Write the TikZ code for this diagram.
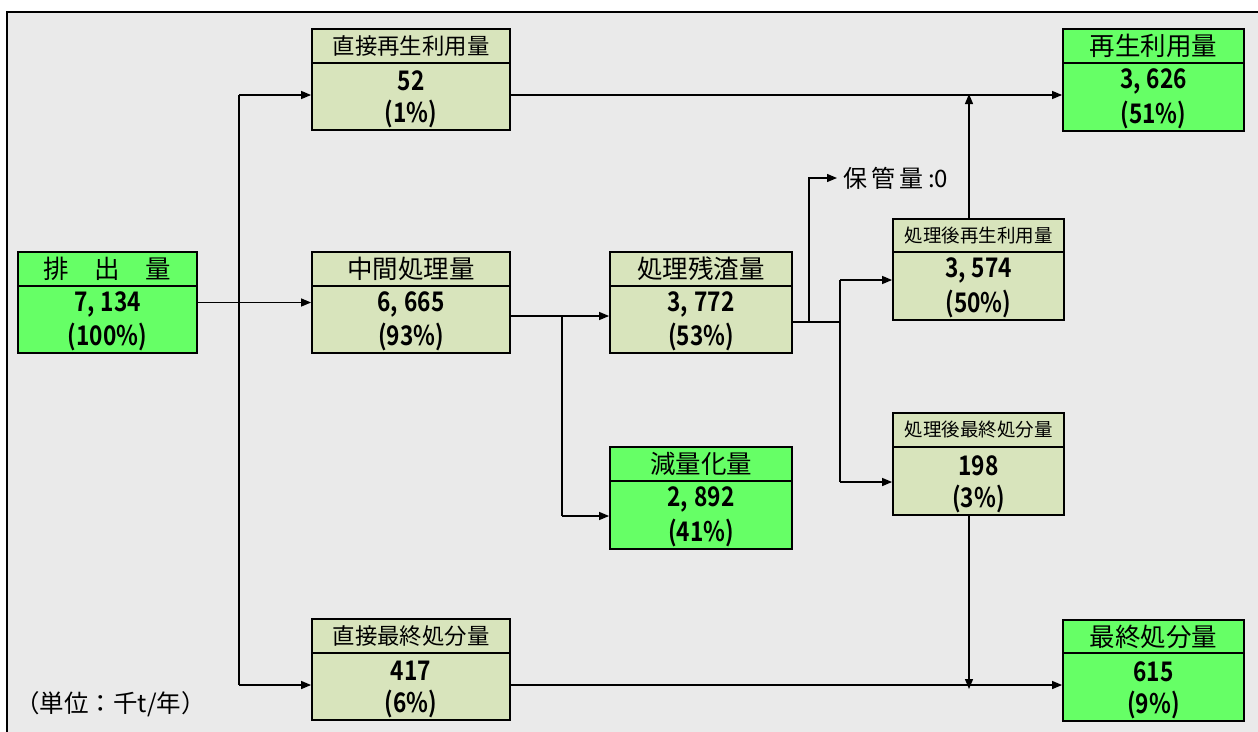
\documentclass[tikz,border=0pt]{standalone}
\usepackage{fontspec}
\setmainfont{Noto Sans CJK JP}
\newfontfamily\numf[FakeStretch=0.84]{Noto Sans CJK JP Bold}
\usetikzlibrary{arrows.meta,fit}
\definecolor{bggray}{HTML}{EAEAEA}
\definecolor{grn}{HTML}{66FF66}
\definecolor{beige}{HTML}{D8E4BC}
\tikzset{
  boxst/.style={draw=black, line width=1.8pt, inner sep=0pt},
  hdrl/.style={font=\fontsize{25.5}{27}\selectfont, inner sep=0pt},
  hdr/.style={font=\fontsize{22.4}{24}\selectfont, inner sep=0pt},
  hdrs/.style={font=\fontsize{18.5}{20}\selectfont, inner sep=0pt},
  num/.style={font=\numf\fontsize{27}{29}\selectfont, inner sep=0pt},
  conn/.style={line width=1.3pt},
  arr/.style={line width=1.3pt, -{Triangle[length=10pt,width=8pt]}},
}
\newcommand{\cm}{,\hspace{6pt}}
% #1 name, #2 x1, #3 y1, #4 x2, #5 y2, #6 ydiv, #7 fill, #8 header style, #9 header
\newcommand{\flowbox}[9]{%
  \node[boxst, fill=#7, fit={(#2,#3) (#4,#5)}] (#1) {};
  \draw[line width=1.6pt] (#2,#6) -- (#4,#6);
  \node[#8] (#1-h) at ({(#2+#4)/2},{(#3+#6)/2}) {#9};
}
\newcommand{\flowvals}[7]{% #1 name #2 x1 #3 x2 #4 ydiv #5 y2 #6 val #7 pct
  \node[num] (#1-v) at ({(#2+#3)/2},{#4+0.27*(#5-#4)}) {#6};
  \node[num] (#1-p) at ({(#2+#3)/2},{#4+0.76*(#5-#4)}) {#7};
}
\begin{document}
\begin{tikzpicture}[x=1pt,y=-1pt]
\useasboundingbox (0,0) rectangle (1258,731);
\fill[white] (0,0) rectangle (1258,731);
\fill[bggray] (7,12) rectangle (1262,735);
\draw[line width=1.8pt] (7,735) -- (7,12) -- (1262,12);

% boxes
\flowbox{haishutsu}{18}{252}{197}{353}{286}{grn}{hdrl}{排　出　量}
\flowvals{haishutsu}{18}{197}{286}{353}{7\cm 134}{(100\%)}
\flowbox{chokusai}{312}{29}{510}{130}{63}{beige}{hdr}{直接再生利用量}
\flowvals{chokusai}{312}{510}{63}{130}{52}{(1\%)}
\flowbox{chukan}{312}{252}{510}{353}{286}{beige}{hdrl}{中間処理量}
\flowvals{chukan}{312}{510}{286}{353}{6\cm 665}{(93\%)}
\flowbox{chokushu}{312}{619}{510}{720}{653}{beige}{hdr}{直接最終処分量}
\flowvals{chokushu}{312}{510}{653}{720}{417}{(6\%)}
\flowbox{zansa}{610}{252}{792}{353}{286}{beige}{hdrl}{処理残渣量}
\flowvals{zansa}{610}{792}{286}{353}{3\cm 772}{(53\%)}
\flowbox{genryo}{610}{447}{792}{549}{481}{grn}{hdrl}{減量化量}
\flowvals{genryo}{610}{792}{481}{549}{2\cm 892}{(41\%)}
\flowbox{shosai}{893}{219}{1064}{320}{252}{beige}{hdrs}{処理後再生利用量}
\flowvals{shosai}{893}{1064}{252}{320}{3\cm 574}{(50\%)}
\flowbox{shoshu}{893}{413}{1064}{515}{447}{beige}{hdrs}{処理後最終処分量}
\flowvals{shoshu}{893}{1064}{447}{515}{198}{(3\%)}
\flowbox{saisei}{1063}{29}{1244}{131}{63}{grn}{hdrl}{再生利用量}
\flowvals{saisei}{1063}{1244}{63}{131}{3\cm 626}{(51\%)}
\flowbox{saishu}{1063}{620}{1244}{721}{653}{grn}{hdrl}{最終処分量}
\flowvals{saishu}{1063}{1244}{653}{721}{615}{(9\%)}

\node[font=\fontsize{24}{26}\selectfont, anchor=west, inner sep=0pt] (hokan) at (843,178) {保\kern4pt 管\kern4pt 量\kern5pt :0};
\node[font=\fontsize{24.5}{26}\selectfont, anchor=west, inner sep=0pt] (unit) at (15,704) {（単位：千t/年）};

% junctions
\coordinate (j1) at (239,95);
\coordinate (j2) at (239,685);
\coordinate (j3) at (562,316);
\coordinate (j4) at (562,516);
\coordinate (j5) at (809,322);
\coordinate (j6) at (840,322);
\coordinate (j6a) at (840,280);
\coordinate (j6b) at (840,482);
\coordinate (j7) at (969,96);
\coordinate (j8) at (969,685);

% connectors
\draw[arr] (haishutsu.east) -- (chukan.west);
\draw[conn] (j1) -- (j2);
\draw[arr] (j1) -- (j1 -| chokusai.west);
\draw[arr] (j2) -- (j2 -| chokushu.west);
\draw[arr] (j1 -| chokusai.east) -- (j1 -| saisei.west);
\draw[arr] (j2 -| chokushu.east) -- (j2 -| saishu.west);
\draw[conn] (j3 -| chukan.east) -- (j3);
\draw[arr] (j3) -- (j3 -| zansa.west);
\draw[conn] (j3) -- (j4);
\draw[arr] (j4) -- (j4 -| genryo.west);
\draw[conn] (j5 -| zansa.east) -- (j6);
\draw[arr] (j5) |- ([xshift=-6pt]hokan.west);
\draw[conn] (j6a) -- (j6b);
\draw[arr] (j6a) -- (j6a -| shosai.west);
\draw[arr] (j6b) -- (j6b -| shoshu.west);
\draw[arr] (j7 |- shosai.north) -- ([yshift=2pt]j7);
\draw[arr] (j8 |- shoshu.south) -- ([yshift=-4pt]j8);
\end{tikzpicture}
\end{document}
